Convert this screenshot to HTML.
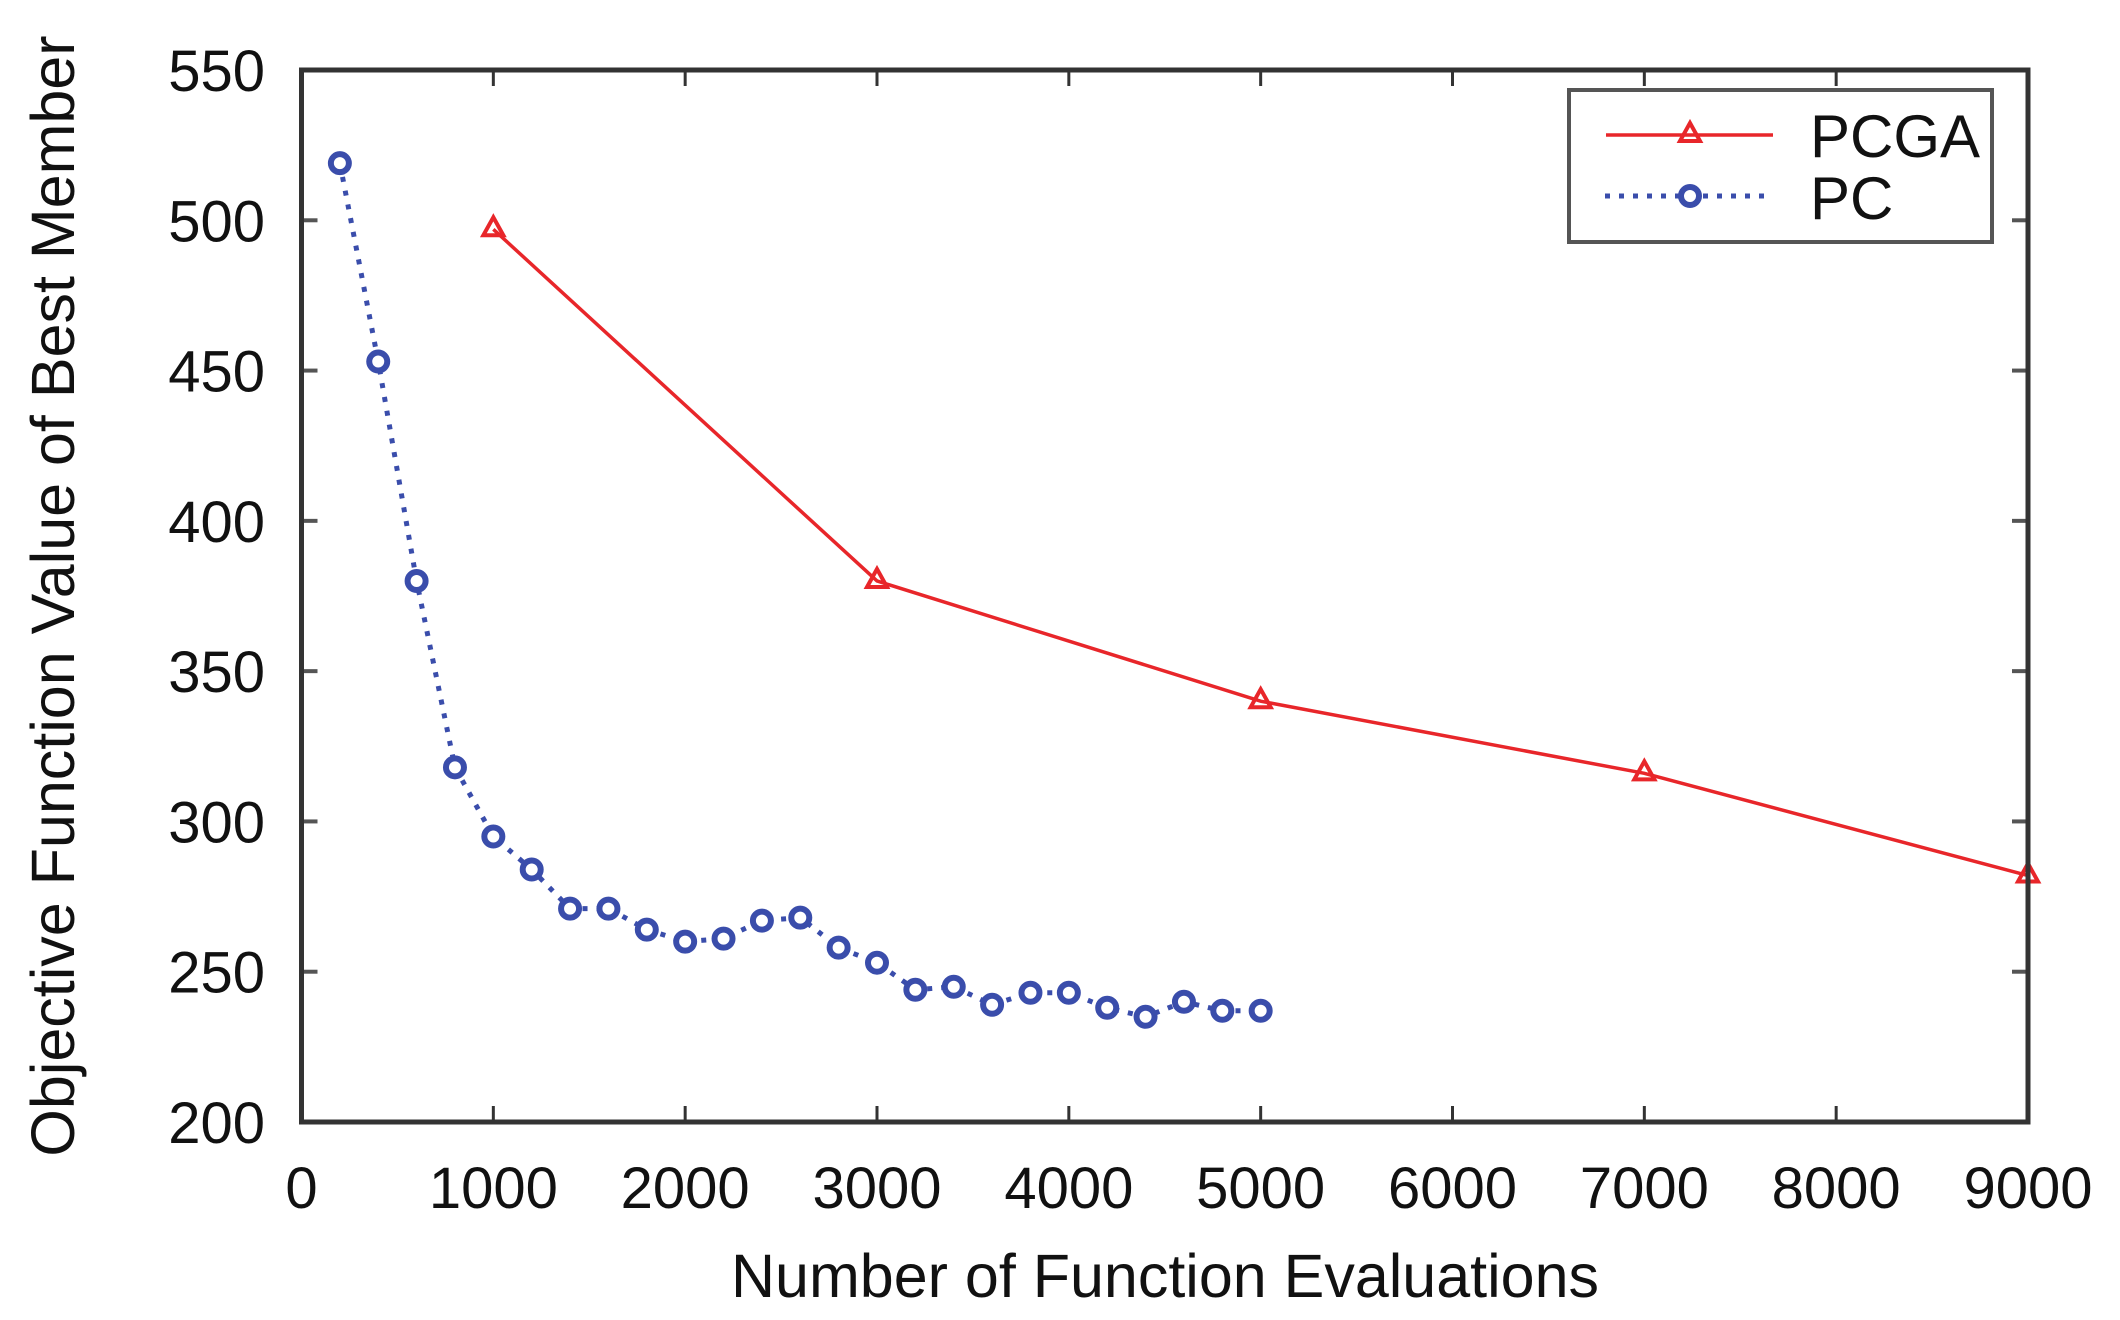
<!DOCTYPE html>
<html><head><meta charset="utf-8"><style>
html,body{margin:0;padding:0;background:#fff;width:2120px;height:1320px;overflow:hidden}
svg{display:block;font-family:"Liberation Sans",sans-serif}
</style></head><body>
<svg id="chart" width="2120" height="1320" viewBox="0 0 2120 1320" xmlns="http://www.w3.org/2000/svg">
<g id="grid"></g>
<g id="series"></g>
<rect x="301.5" y="70" width="1726.5" height="1052" fill="none" stroke="#333" stroke-width="5"/>
<text x="1165" y="1297" font-size="61" text-anchor="middle" fill="#111">Number of Function Evaluations</text>
<text transform="translate(74,596) rotate(-90)" font-size="61" text-anchor="middle" fill="#111">Objective Function Value of Best Member</text>
<g>
<rect x="1569" y="90" width="423" height="152" fill="#fff" stroke="#555" stroke-width="4"/>
<line x1="1606" y1="135" x2="1773" y2="135" stroke="#e8262a" stroke-width="3.5"/>
<polygon points="1690,123 1680,141 1700,141" fill="none" stroke="#e8262a" stroke-width="4"/>
<text x="1810" y="157" font-size="60" fill="#111">PCGA</text>
<line x1="1605" y1="196" x2="1770" y2="196" stroke="#3a4dab" stroke-width="5" stroke-dasharray="5,9"/>
<circle cx="1690" cy="196" r="9" fill="#fff" stroke="#3a4dab" stroke-width="6"/>
<text x="1810" y="219" font-size="60" fill="#111">PC</text>
</g>
</svg>
<script>
const pcX = [200,400,600,800,1000,1200,1400,1600,1800,2000,2200,2400,2600,2800,3000,3200,3400,3600,3800,4000,4200,4400,4600,4800,5000];
const pcY = [519,453,380,318,295,284,271,271,264,260,261,267,268,258,253,244,245,239,243,243,238,235,240,237,237];
const pcgaX = [1000,3000,5000,7000,9000];
const pcgaY = [497,380,340,316,282];
const xTicks = [0,1000,2000,3000,4000,5000,6000,7000,8000,9000];
const yTicks = [200,250,300,350,400,450,500,550];

const L=301.5,R=2028,T=70,B=1122;
const sx=v=>L+(v-0)/(9000-0)*(R-L);
const sy=v=>B-(v-200)/(550-200)*(B-T);
const NS='http://www.w3.org/2000/svg';
const grid=document.getElementById('grid'), ser=document.getElementById('series');
function mk(tag,attrs,parent){const e=document.createElementNS(NS,tag);for(const k in attrs)e.setAttribute(k,attrs[k]);parent.appendChild(e);return e;}

xTicks.forEach(v=>{
  const x=sx(v);
  const t1=mk('line',{x1:x,y1:B,x2:x,y2:B-16,stroke:'#333','stroke-width':3},grid);
  
  
  const t2=mk('line',{x1:x,y1:T,x2:x,y2:T+16,stroke:'#333','stroke-width':3},grid);
  
  
  const tx=mk('text',{x:x,y:1208,'font-size':58,'text-anchor':'middle',fill:'#111'},grid);
  tx.textContent=v;
  
  
});
yTicks.forEach(v=>{
  const y=sy(v);
  const t1=mk('line',{x1:L,y1:y,x2:L+16,y2:y,stroke:'#555','stroke-width':4},grid);
  
  
  const t2=mk('line',{x1:R,y1:y,x2:R-16,y2:y,stroke:'#555','stroke-width':4},grid);
  
  
  const tx=mk('text',{x:265,y:y+21,'font-size':58,'text-anchor':'end',fill:'#111'},grid);
  tx.textContent=v;
  
  
});

const pcPts=pcX.map((x,i)=>sx(x)+','+sy(pcY[i])).join(' ');
const pl=mk('polyline',{points:pcPts,fill:'none',stroke:'#3a4dab','stroke-width':5,'stroke-dasharray':'5,9'},ser);


const gaPts=pcgaX.map((x,i)=>sx(x)+','+sy(pcgaY[i])).join(' ');
const gl=mk('polyline',{points:gaPts,fill:'none',stroke:'#e8262a','stroke-width':3.5},ser);



pcX.forEach((x,i)=>{
  const c=mk('circle',{cx:sx(x),cy:sy(pcY[i]),r:9,fill:'#fff',stroke:'#3a4dab','stroke-width':6},ser);
  
  
});
pcgaX.forEach((x,i)=>{
  const cx=sx(x),cy=sy(pcgaY[i]);
  const p=mk('polygon',{points:`${cx},${cy-12} ${cx-10},${cy+6} ${cx+10},${cy+6}`,fill:'none',stroke:'#e8262a','stroke-width':4},ser);
  
  
});
</script>
</body></html>
